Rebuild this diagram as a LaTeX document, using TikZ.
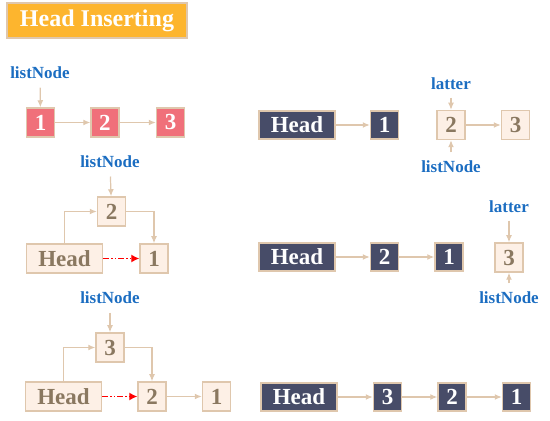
\documentclass[tikz,border=0pt]{standalone}
\usepackage{fontspec}
\setmainfont{Liberation Serif}
\usetikzlibrary{arrows.meta, positioning}
\definecolor{tanline}{HTML}{DFC7AD}
\definecolor{lightfill}{HTML}{FDF0E6}
\definecolor{browntext}{HTML}{8A7860}
\definecolor{redfill}{HTML}{F0707A}
\definecolor{darkfill}{HTML}{474C68}
\definecolor{orangefill}{HTML}{FDB52E}
\definecolor{ptrblue}{HTML}{1B6DC1}

\begin{document}
\begin{tikzpicture}[x=1pt,y=1pt]
\tikzset{title/.style={rectangle, fill=orangefill, draw=tanline, line width=1.5pt, minimum width=180pt, minimum height=35pt, inner sep=0pt, text=white, font=\fontsize{24}{24}\selectfont\bfseries},
		rednode/.style={rectangle, fill=redfill, draw=tanline, line width=1.5pt, minimum width=28pt, minimum height=29pt, inner sep=0pt, text=white, font=\fontsize{23}{23}\selectfont\bfseries},
		darknode/.style={rectangle, fill=darkfill, draw=tanline, line width=1.5pt, minimum width=28pt, minimum height=28pt, inner sep=0pt, text=white, font=\fontsize{23}{23}\selectfont\bfseries},
		lightnode/.style={rectangle, fill=lightfill, draw=tanline, line width=1.5pt, minimum width=28pt, minimum height=29pt, inner sep=0pt, text=browntext, font=\fontsize{23}{23}\selectfont\bfseries},
		headwide/.style={minimum width=76pt},
		ptr/.style={text=ptrblue, font=\fontsize{17}{17}\selectfont\bfseries},
		arr/.style={draw=tanline, line width=1.2pt, -{Latex[length=7pt,width=6pt]}},
		newlink/.style={draw=red, line width=1.2pt, dash pattern=on 6pt off 2pt on 1.5pt off 2pt on 1.5pt off 2pt, -{Latex[length=8pt,width=8pt]}}}
\useasboundingbox (0,0) rectangle (550,421);

\node[title] (T) at (97,400.5) {Head Inserting};

% first step
\node[rednode] (A1) at (40.5,298.5) {1};
\node[rednode, right=35pt of A1] (A2) {2};
\node[rednode, right=36pt of A2] (A3) {3};
\node[ptr] (AL) at (40,348) {listNode};
\draw[arr, shorten <=5pt] (AL) -- (A1);
\draw[arr] (A1) -- (A2);
\draw[arr] (A2) -- (A3);

\node[darknode, headwide] (BH) at (297,296) {Head};
\node[darknode, right=34pt of BH] (B1) {1};
\node[lightnode] (B2) at (451,296) {2};
\node[lightnode, right=35pt of B2] (B3) {3};
\node[ptr] (BT) at (451,337) {latter};
\node[ptr] (BL) at (451,254) {listNode};
\draw[arr] (BH) -- (B1);
\draw[arr] (B2) -- (B3);
\draw[arr, shorten <=4pt] (BT) -- (B2);
\draw[arr, shorten <=5pt] (BL) -- (B2);

% second step
\node[lightnode, headwide] (CH) at (64.5,162.5) {Head};
\node[lightnode] (C2) at (111.5,209.5) {2};
\node[lightnode, right=36pt of CH] (C1) {1};
\node[ptr] (CL) at (110,259) {listNode};
\draw[arr, shorten <=5pt] (CL) -- (C2);
\draw[arr] (CH.north) |- (C2.west);
\draw[arr] (C2.east) -| (C1.north);
\draw[newlink] (CH) -- (C1);

\node[darknode, headwide] (DH) at (297,164) {Head};
\node[darknode, right=34pt of DH] (D2) {2};
\node[darknode, right=35pt of D2] (D1) {1};
\node[lightnode] (D3) at (509,163.5) {3};
\node[ptr] (DT) at (509,214) {latter};
\node[ptr] (DL) at (509,123) {listNode};
\draw[arr] (DH) -- (D2);
\draw[arr] (D2) -- (D1);
\draw[arr, shorten <=4pt] (DT) -- (D3);
\draw[arr, shorten <=5pt] (DL) -- (D3);

% third step
\node[lightnode, headwide] (EH) at (63.5,24.5) {Head};
\node[lightnode] (E3) at (110,73.5) {3};
\node[lightnode, right=35pt of EH] (E2) {2};
\node[lightnode, right=35pt of E2] (E1) {1};
\node[ptr] (EL) at (110,123) {listNode};
\draw[arr, shorten <=5pt] (EL) -- (E3);
\draw[arr] (EH.north) |- (E3.west);
\draw[arr] (E3.east) -| (E2.north);
\draw[newlink] (EH) -- (E2);
\draw[arr] (E2) -- (E1);

\node[darknode, headwide] (FH) at (299,24) {Head};
\node[darknode, right=35pt of FH] (F3) {3};
\node[darknode, right=35pt of F3] (F2) {2};
\node[darknode, right=35pt of F2] (F1) {1};
\draw[arr] (FH) -- (F3);
\draw[arr] (F3) -- (F2);
\draw[arr] (F2) -- (F1);
\end{tikzpicture}
\end{document}
